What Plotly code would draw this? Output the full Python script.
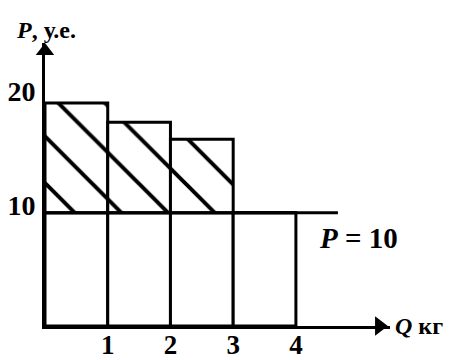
import plotly.graph_objects as go

# price per unit of each kg bought (step demand) and market price
q_mid = [0.5, 1.5, 2.5, 3.5]
p_top = [19.7, 18.0, 16.5, 10.0]
price = 10
q_line = [0, 4.67]
x_ticks = [1, 2, 3, 4]
y_ticks = [10, 20]

SERIF = "Liberation Serif, Times New Roman, serif"
BIG = dict(family=SERIF, size=28, color="black", weight="bold")
SMALL = dict(family=SERIF, size=24, color="black", weight="bold")

fig = go.Figure()

# lower part of every bar: 0 .. price
fig.add_trace(go.Bar(
    x=q_mid, y=[price] * len(q_mid), width=1,
    marker=dict(color="white", line=dict(color="black", width=3)),
    hoverinfo="skip",
))

# hatched surplus: price .. top
surplus = [p - price for p in p_top]
fig.add_trace(go.Bar(
    x=q_mid, y=surplus, base=[price] * len(q_mid), width=1,
    marker=dict(color="white", opacity=1, line=dict(color="black", width=3),
                pattern=dict(shape="\\", size=33, solidity=0.12, fillmode="replace",
                             fgcolor="black", bgcolor="white", fgopacity=1)),
    hoverinfo="skip",
))

# P = 10 line
fig.add_trace(go.Scatter(x=q_line, y=[price, price], mode="lines",
                         line=dict(color="black", width=3), hoverinfo="skip"))

# axis arrows
fig.add_trace(go.Scatter(x=[5.33], y=[0], mode="markers", cliponaxis=False,
                         marker=dict(symbol="triangle-right", size=17, color="black"),
                         hoverinfo="skip"))
fig.add_trace(go.Scatter(x=[0], y=[24.3], mode="markers", cliponaxis=False,
                         marker=dict(symbol="triangle-up", size=16, color="black"),
                         hoverinfo="skip"))

fig.add_annotation(x=4.33, y=7.8, xref="x", yref="y", xanchor="left", showarrow=False,
                   text="<i>P</i> = 10", font=dict(BIG, size=29))
fig.add_annotation(x=1.01, y=0, xref="paper", yref="paper", xanchor="left",
                   yanchor="middle", showarrow=False, text="<i>Q</i> кг", font=SMALL)
fig.add_annotation(x=-0.09, y=1.045, xref="paper", yref="paper", xanchor="left",
                   yanchor="middle", showarrow=False, text="<i>P</i>, у.е.", font=SMALL)

# page body adds an 8px offset, so size and margins are trimmed by 8
fig.update_layout(
    width=445, height=352,
    margin=dict(l=37, r=63, t=35, b=34),
    paper_bgcolor="white", plot_bgcolor="white",
    showlegend=False, barmode="overlay",
    font=BIG,
    xaxis=dict(range=[0, 5.5], showgrid=False, zeroline=False, showline=True,
               linecolor="black", linewidth=3, tickvals=x_ticks, ticks="",
               ticklabelstandoff=-7, tickfont=dict(BIG, size=27), automargin=False),
    yaxis=dict(range=[0, 25], showgrid=False, zeroline=False, showline=True,
               linecolor="black", linewidth=3, tickvals=y_ticks, ticks="",
               ticklabelstandoff=1, ticklabelshift=-8, tickfont=BIG,
               automargin=False),
)

fig.write_html("out.html")
